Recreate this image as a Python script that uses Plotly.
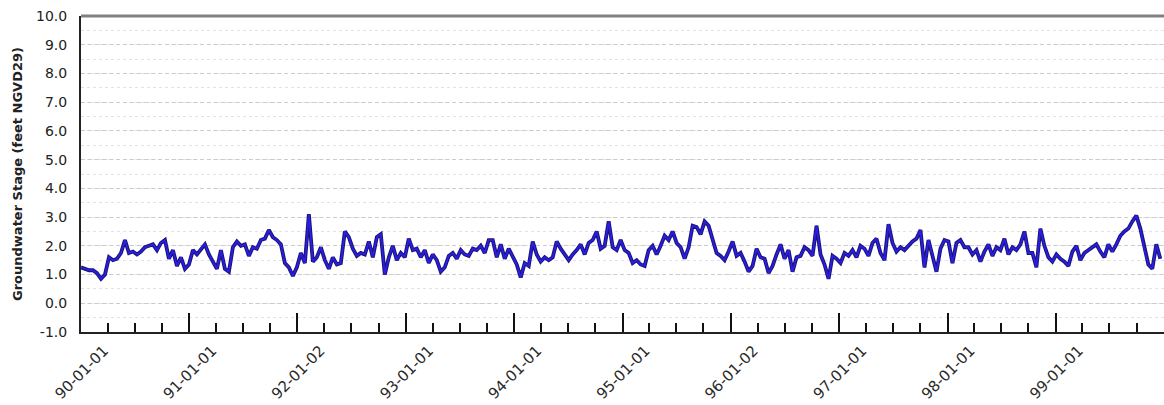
import numpy as np
import pandas as pd
import plotly.graph_objects as go

# Groundwater stage (feet NGVD29) at ~13.5-day steps from 1990-01-01
stage = [
    # 1990 .. early 1991
    1.25, 1.2, 1.15, 1.15, 1.05, 0.85, 1.0, 1.6, 1.5, 1.55, 1.75, 2.2, 1.75, 1.8, 1.7, 1.8, 1.95,
    2.0, 2.05, 1.85, 2.1, 2.2, 1.55, 1.85, 1.3, 1.6, 1.2, 1.35, 1.85, 1.7, 1.9, 2.05, 1.7, 1.45,
    # 1991 .. mid 1992
    1.2, 1.85, 1.2, 1.1, 1.95, 2.15, 2.0, 2.05, 1.65, 1.95, 1.9, 2.2, 2.25, 2.55, 2.3, 2.2, 2.05,
    1.4, 1.25, 0.95, 1.25, 1.75, 1.4, 3.1, 1.45, 1.6, 1.95, 1.5, 1.2, 1.6, 1.35, 1.4, 2.5, 2.3,
    # mid 1992 .. 1993
    1.9, 1.65, 1.75, 1.7, 2.15, 1.6, 2.3, 2.4, 1.0, 1.6, 2.0, 1.5, 1.75, 1.6, 2.25, 1.85, 1.9,
    1.6, 1.85, 1.4, 1.7, 1.5, 1.1, 1.25, 1.65, 1.75, 1.55, 1.85, 1.7, 1.65, 1.9, 1.85, 2.0, 1.75,
    # late 1993 .. 1994
    2.2, 2.2, 1.6, 2.05, 1.55, 1.9, 1.65, 1.35, 0.9, 1.4, 1.3, 2.15, 1.7, 1.45, 1.6, 1.5, 1.6,
    2.15, 1.9, 1.7, 1.5, 1.7, 1.85, 2.05, 1.7, 2.1, 2.2, 2.5, 1.9, 2.0, 2.85, 1.95, 1.85, 2.2,
    # 1995 .. early 1996
    1.85, 1.75, 1.4, 1.5, 1.35, 1.3, 1.85, 2.0, 1.7, 2.0, 2.35, 2.2, 2.5, 2.1, 1.95, 1.55, 1.95,
    2.7, 2.65, 2.4, 2.85, 2.7, 2.2, 1.75, 1.65, 1.5, 1.8, 2.15, 1.65, 1.75, 1.45, 1.1, 1.3, 1.9,
    # 1996 .. mid 1997
    1.6, 1.55, 1.05, 1.3, 1.7, 2.05, 1.55, 1.85, 1.1, 1.6, 1.65, 1.95, 1.85, 1.65, 2.7, 1.7, 1.35,
    0.85, 1.65, 1.55, 1.4, 1.75, 1.65, 1.85, 1.6, 2.0, 1.9, 1.65, 2.1, 2.25, 1.75, 1.5, 2.75, 2.1,
    # mid 1997 .. late 1998
    1.8, 1.95, 1.85, 2.0, 2.15, 2.25, 2.55, 1.25, 2.2, 1.65, 1.1, 1.9, 2.2, 2.15, 1.4, 2.1, 2.2,
    1.95, 1.95, 1.7, 1.85, 1.45, 1.8, 2.05, 1.65, 1.95, 1.85, 2.25, 1.7, 1.95, 1.85, 2.05, 2.5, 1.75,
    # late 1998 .. 1999
    1.75, 1.25, 2.6, 2.0, 1.6, 1.45, 1.7, 1.55, 1.45, 1.3, 1.8, 2.0, 1.5, 1.75, 1.85, 1.95, 2.05,
    1.8, 1.6, 2.05, 1.8, 2.05, 2.35, 2.5, 2.6, 2.85, 3.05, 2.6, 1.9, 1.35, 1.2, 2.05, 1.55,
]

start_date = "1990-01-01"
step_days = 13.48
dates = pd.Timestamp(start_date) + pd.to_timedelta(np.arange(len(stage)) * step_days, unit="D")

tick_dates = ["1990-01-01", "1991-01-01", "1992-01-01", "1993-01-01", "1994-01-01",
              "1995-01-01", "1996-01-01", "1997-01-01", "1998-01-01", "1999-01-01"]
tick_labels = ["90-01-01", "91-01-01", "92-01-02", "93-01-01", "94-01-01",
               "95-01-01", "96-01-02", "97-01-01", "98-01-01", "99-01-01"]
y_ticks = [-1, 0, 1, 2, 3, 4, 5, 6, 7, 8, 9, 10]
y_labels = [f"{v:.1f}" for v in y_ticks]

FONT = "DejaVu Sans, Arial, sans-serif"

fig = go.Figure()
fig.add_trace(go.Scatter(x=dates, y=stage, mode="lines",
                         line=dict(color="#1b1470", width=3.8), hoverinfo="skip",
                         showlegend=False))
fig.add_trace(go.Scatter(x=dates, y=stage, mode="lines",
                         line=dict(color="#2a1ee6", width=1.8),
                         showlegend=False))

fig.update_layout(
    width=1164, height=405,
    margin=dict(l=81, r=0, t=16, b=73, autoexpand=False),
    paper_bgcolor="white", plot_bgcolor="white",
    font=dict(family=FONT, color="#222"),
    xaxis=dict(
        type="date", range=["1990-01-01", "2000-01-01"], automargin=False,
        tickmode="array", tickvals=tick_dates, ticktext=tick_labels,
        tickangle=-45, tickfont=dict(family=FONT, size=15, color="#2a2a2a"),
        ticks="inside", ticklen=19, tickwidth=1.5, tickcolor="#111",
        ticklabelshift=23, ticklabelstandoff=2,
        minor=dict(dtick="M3", tick0="1990-01-01", ticks="inside", ticklen=9,
                   tickwidth=1.5, tickcolor="#111", showgrid=False),
        showgrid=False, zeroline=False,
        showline=True, linecolor="#222", linewidth=2,
    ),
    yaxis=dict(
        range=[-1, 10], automargin=False,
        tickmode="array", tickvals=y_ticks, ticktext=y_labels,
        tickfont=dict(family=FONT, size=14, color="#222"), ticks="", ticklabelstandoff=9,
        showgrid=True, gridcolor="#cccccc", griddash="4px,3px", gridwidth=1,
        minor=dict(dtick=0.5, tick0=-1, showgrid=True, gridcolor="#e2e2e2",
                   griddash="dot", gridwidth=1),
        zeroline=False, showline=True, linecolor="#222", linewidth=2,
        title=dict(text="<b>Groundwater Stage (feet NGVD29)</b>",
                   font=dict(family=FONT, size=13, color="#222"), standoff=10),
    ),
    shapes=[dict(type="line", xref="paper", yref="paper", x0=0, x1=1, y0=1, y1=1,
                 line=dict(color="#808080", width=3))],
)

fig.write_html("out.html", config={"displayModeBar": False},
               post_script="document.body.style.margin='0';")
